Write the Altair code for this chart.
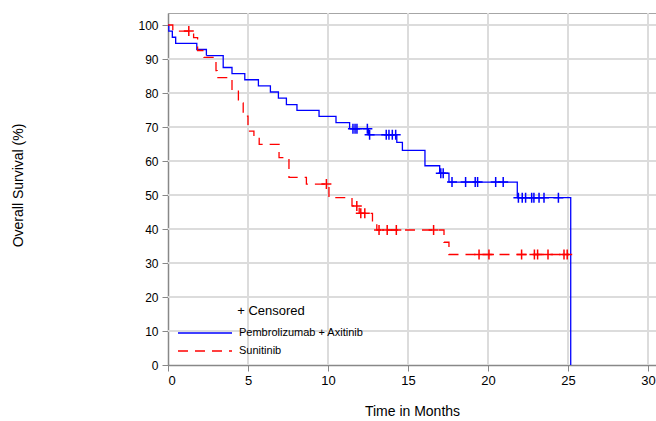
import altair as alt
import pandas as pd
import numpy as np

arm_names = ["Pembrolizumab + Axitinib", "Sunitinib"]
arm_colors = ["#0000ff", "#ff0000"]

# Kaplan-Meier step points (time in months, survival %)
pa_time = [0, 0.05, 0.27, 0.48, 1.8, 2.4, 3.45, 4.0, 4.8, 5.65, 6.4, 6.9, 7.4, 8.06,
           9.44, 10.5, 11.35, 12.52, 14.3, 14.65, 16.06, 16.98, 17.56, 21.83, 25.17, 25.17]
pa_surv = [100, 98.2, 96.4, 94.6, 92.8, 91.0, 87.5, 85.7, 83.9, 82.1, 80.3, 78.5, 76.6, 74.9,
           73.1, 71.3, 69.5, 67.7, 65.5, 63.1, 58.6, 56.4, 53.8, 49.2, 49.2, 0]
pa_cens = [11.56, 11.69, 11.81, 12.46, 12.6, 13.64, 13.81, 14.02, 14.23, 17.05, 17.2,
           17.75, 18.6, 19.2, 19.35, 20.48, 20.95, 21.9, 22.14, 22.35, 22.73, 22.87,
           23.19, 23.5, 24.4]

su_time = [0, 0.3, 1.6, 1.85, 2.25, 3.0, 3.07, 4.0, 4.4, 4.7, 5.0, 5.37, 5.7, 6.94,
           7.56, 8.65, 10.06, 11.5, 11.95, 12.78, 13.05, 17.25, 17.56, 25.05]
su_surv = [100, 98.2, 96.3, 92.5, 90.5, 86.6, 84.5, 80.8, 77.1, 73.2, 68.8, 66.9, 64.9, 61.0,
           55.2, 53.2, 49.2, 46.8, 44.6, 42.2, 39.7, 36.1, 32.5, 32.5]
su_cens = [1.3, 9.9, 11.8, 12.05, 12.3, 13.19, 13.7, 14.27, 16.6, 19.44, 20.06, 22.1,
           22.9, 23.1, 23.75, 24.75, 24.95]

x_major = [0, 5, 10, 15, 20, 25, 30]
y_major = [0, 10, 20, 30, 40, 50, 60, 70, 80, 90, 100]

FONT = "Liberation Sans"
PLOT_W, PLOT_H = 488, 352
X_DOMAIN = [0, PLOT_W / 16.0]
Y_DOMAIN = [0, PLOT_H / 3.4]
GRID = "#dcdcdc"
AXIS_GRAY = "#888888"


def step_value(times, survs, t):
    i = int(np.searchsorted(np.asarray(times), t, side="right")) - 1
    return survs[i]


rows = []
for name, ts, ss in [(arm_names[0], pa_time, pa_surv), (arm_names[1], su_time, su_surv)]:
    for k, (t, s) in enumerate(zip(ts, ss)):
        rows.append({"arm": name, "month": t, "surv": s, "k": k})
lines_df = pd.DataFrame(rows)

pa_c = pd.DataFrame({"month": pa_cens, "surv": [step_value(pa_time, pa_surv, t) for t in pa_cens]})
su_c = pd.DataFrame({"month": su_cens, "surv": [step_value(su_time, su_surv, t) for t in su_cens]})

xs = alt.Scale(domain=X_DOMAIN, nice=False, zero=False)
ys = alt.Scale(domain=Y_DOMAIN, nice=False, zero=False)

x_axis = alt.Axis(
    orient="bottom", values=x_major, title="Time in Months", grid=False, tickSize=6,
    labelPadding=3, labelOverlap=False, labelFontSize=13,
    titleY=46, titleBaseline="middle")
y_axis = alt.Axis(
    orient="left", values=y_major, title="Overall Survival (%)", grid=False, tickSize=6,
    labelPadding=4, labelOverlap=False, labelFontSize=12,
    titleX=-150, titleY=172, titleBaseline="middle")

grid_x = alt.Chart(pd.DataFrame({"month": x_major[1:]})).mark_rule(
    color=GRID, strokeWidth=2, opacity=1
).encode(
    x=alt.X("month:Q", scale=xs, axis=None),
    y=alt.YDatum(Y_DOMAIN[0], scale=ys, axis=None),
    y2=alt.Y2Datum(Y_DOMAIN[1]),
)
grid_y = alt.Chart(pd.DataFrame({"surv": y_major[1:]})).mark_rule(
    color=GRID, strokeWidth=2, opacity=1
).encode(
    y=alt.Y("surv:Q", scale=ys, axis=None),
    x=alt.XDatum(X_DOMAIN[0], scale=xs, axis=None),
    x2=alt.X2Datum(X_DOMAIN[1]),
)

lines = alt.Chart(lines_df).mark_line(interpolate="step-after", strokeWidth=1.3).encode(
    x=alt.X("month:Q", scale=xs, axis=x_axis),
    y=alt.Y("surv:Q", scale=ys, axis=y_axis),
    order=alt.Order("k:Q"),
    color=alt.Color(
        "arm:N",
        scale=alt.Scale(domain=arm_names, range=arm_colors),
        legend=alt.Legend(
            title="+ Censored",
            orient="none",
            legendX=10,
            legendY=292,
            padding=0,
            titleAnchor="middle",
            titleFontSize=13,
            titleFontWeight="normal",
            titleFont=FONT,
            titleColor="black",
            titlePadding=9,
            labelFont=FONT,
            labelFontSize=11,
            labelColor="black",
            labelOffset=49,
            symbolType="M-1.2,0H9.6",
            symbolSize=100,
            symbolStrokeWidth=1.3,
            symbolOffset=0,
            rowPadding=7,
        ),
    ),
    strokeDash=alt.StrokeDash(
        "arm:N",
        scale=alt.Scale(domain=arm_names, range=[[1, 0], [10, 7]]),
        legend=alt.Legend(title="+ Censored"),
    ),
)

cross = "M-1,0H1M0,-1V1"
pa_pts = alt.Chart(pa_c).mark_point(shape=cross, size=100, filled=False, strokeWidth=1.5, opacity=1).encode(
    x=alt.X("month:Q", scale=xs, axis=None),
    y=alt.Y("surv:Q", scale=ys, axis=None),
    color=alt.value(arm_colors[0]),
)
su_pts = alt.Chart(su_c).mark_point(shape=cross, size=100, filled=False, strokeWidth=1.5, opacity=1).encode(
    x=alt.X("month:Q", scale=xs, axis=None),
    y=alt.Y("surv:Q", scale=ys, axis=None),
    color=alt.value(arm_colors[1]),
)

chart = alt.layer(grid_x, grid_y, lines, pa_pts, su_pts).resolve_axis(
    x="independent", y="independent"
).properties(
    width=PLOT_W,
    height=PLOT_H,
    autosize=alt.AutoSizeParams(type="none"),
    padding={"left": 168, "top": 13, "right": 0, "bottom": 56},
    background="white",
).configure_view(
    stroke="#a6a6a6", strokeWidth=1
).configure_axis(
    domainColor=AXIS_GRAY,
    domainWidth=1.5,
    tickColor=AXIS_GRAY,
    tickWidth=1,
    labelFont=FONT,
    labelColor="black",
    titleFont=FONT,
    titleFontSize=14,
    titleFontWeight="normal",
    titleColor="black",
)

chart.save("out.html", embed_options={"renderer": "svg", "actions": False})
